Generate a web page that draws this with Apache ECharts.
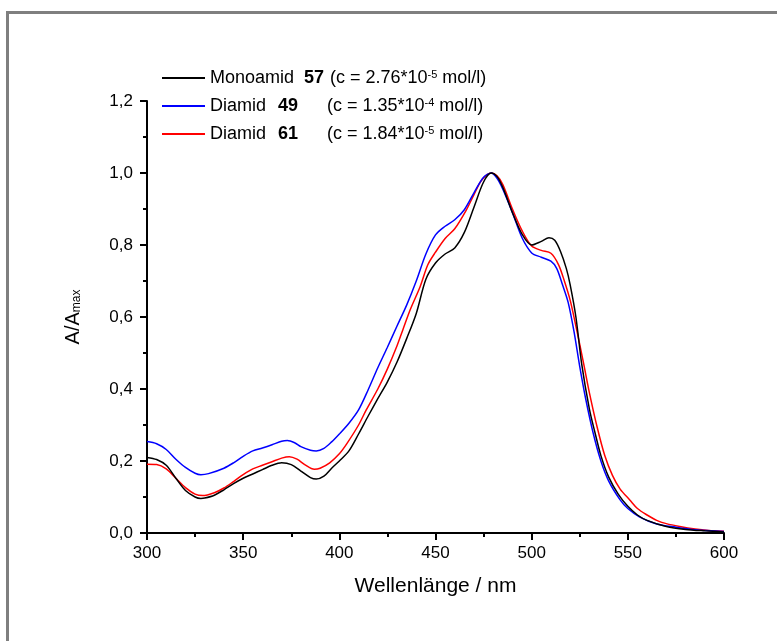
<!DOCTYPE html>
<html>
<head>
<meta charset="utf-8">
<script src="https://cdn.jsdelivr.net/npm/echarts@6/dist/echarts.min.js"></script>
<style>
html,body{margin:0;padding:0;background:#fff;}
#c{width:777px;height:641px;}
</style>
</head>
<body>
<div id="c"></div>
<script>
// ---- Data ----
var xTicks = [300, 350, 400, 450, 500, 550, 600];
var yTicks = [0, 0.2, 0.4, 0.6, 0.8, 1.0, 1.2];

var monoamid57_x = [300,305,310,315,320,325,328,330,335,340,345,350,355,360,365,370,375,380,385,388,392,396,400,405,410,415,420,425,430,435,440,445,450,455,460,465,470,475,479,482,485,490,495,500,505,509,512,515,518,520,523,526,530,533,536,540,545,550,555,560,570,580,590,600];
var monoamid57_y = [0.210,0.204,0.188,0.152,0.118,0.100,0.096,0.097,0.105,0.120,0.137,0.152,0.164,0.176,0.188,0.195,0.190,0.172,0.154,0.150,0.158,0.180,0.200,0.228,0.275,0.325,0.373,0.420,0.475,0.540,0.610,0.705,0.750,0.775,0.792,0.835,0.905,0.975,1.000,0.990,0.960,0.890,0.830,0.800,0.810,0.820,0.813,0.782,0.735,0.690,0.600,0.470,0.345,0.277,0.215,0.156,0.108,0.074,0.050,0.035,0.018,0.010,0.006,0.003];

var diamid49_x = [300,305,310,315,320,325,328,332,340,345,350,355,360,365,370,373,377,380,385,388,392,396,400,405,410,415,420,425,430,435,440,445,450,455,460,465,470,475,479,482,485,490,495,500,505,510,513,516,519,522,525,528,532,536,540,546,550,556,565,575,585,600];
var diamid49_y = [0.254,0.248,0.232,0.205,0.182,0.166,0.162,0.165,0.180,0.195,0.213,0.228,0.236,0.245,0.255,0.257,0.250,0.240,0.230,0.228,0.235,0.253,0.275,0.305,0.342,0.398,0.459,0.516,0.575,0.633,0.700,0.775,0.828,0.852,0.870,0.898,0.945,0.988,1.000,0.985,0.955,0.890,0.820,0.778,0.766,0.755,0.735,0.690,0.640,0.560,0.462,0.375,0.277,0.200,0.145,0.092,0.068,0.045,0.025,0.016,0.009,0.004];

var diamid61_x = [300,305,310,315,320,325,329,335,340,345,350,355,360,365,370,374,378,382,387,390,395,400,404,410,414,420,425,430,433,437,442,446,450,455,460,466,470,474,479,482,485,490,495,500,505,510,514,517,520,523,527,530,534,538,542,546,551,555,560,565,570,577,585,592,600];
var diamid61_y = [0.191,0.190,0.178,0.152,0.126,0.108,0.104,0.112,0.125,0.143,0.162,0.178,0.188,0.198,0.208,0.212,0.205,0.190,0.177,0.180,0.195,0.220,0.249,0.300,0.342,0.400,0.456,0.520,0.564,0.622,0.684,0.745,0.780,0.818,0.845,0.897,0.940,0.980,1.000,0.992,0.968,0.900,0.840,0.797,0.785,0.777,0.745,0.700,0.647,0.575,0.471,0.390,0.295,0.215,0.160,0.122,0.092,0.068,0.050,0.035,0.026,0.018,0.011,0.007,0.005];

var seriesNames = ['Monoamid 57', 'Diamid 49', 'Diamid 61'];
var seriesColors = ['#000000', '#0000ff', '#ff0000'];
var legendParts = {
  'Monoamid 57': {n: 'Monoamid', b: '57', c: '(c = 2.76*10', e: '-5', u: ' mol/l)'},
  'Diamid 49':   {n: 'Diamid', b: '49', c: '(c = 1.35*10', e: '-4', u: ' mol/l)'},
  'Diamid 61':   {n: 'Diamid', b: '61', c: '(c = 1.84*10', e: '-5', u: ' mol/l)'}
};

function zip(xs, ys){ var o=[]; for(var i=0;i<xs.length;i++){o.push([xs[i], ys[i]]);} return o; }
var seriesData = [zip(monoamid57_x, monoamid57_y), zip(diamid49_x, diamid49_y), zip(diamid61_x, diamid61_y)];

var FONT = '"Liberation Sans", Arial, sans-serif';
var chart = echarts.init(document.getElementById('c'), null, {renderer: 'canvas'});

var series = seriesNames.map(function(nm, i){
  return {
    name: nm, type: 'line', data: seriesData[i], smooth: 0.3,
    showSymbol: false, symbol: 'none',
    lineStyle: {color: seriesColors[i], width: 1.5},
    itemStyle: {color: seriesColors[i]},
    z: 3 - i
  };
});

chart.setOption({
  animation: false,
  backgroundColor: '#ffffff',
  graphic: [{
    type: 'polyline',
    shape: {points: [[7.5, 641], [7.5, 12.5], [777, 12.5]]},
    style: {stroke: '#7f7f7f', lineWidth: 3, fill: null},
    silent: true
  }],
  grid: {left: 147, right: 53, top: 101, bottom: 108, containLabel: false},
  legend: {
    orient: 'vertical', left: 157, top: 64,
    itemWidth: 43, itemHeight: 2, itemGap: 4,
    icon: 'rect',
    data: seriesNames,
    formatter: function(name){
      var k = (name === 'Monoamid 57' ? '1' : '2');
      var p = legendParts[name];
      return '{n' + k + '|' + p.n + '}{b' + k + '|' + p.b + '}{c|' + p.c + '}{e|' + p.e + '}{c|' + p.u + '}';
    },
    textStyle: {
      fontFamily: FONT, fontSize: 18, color: '#000', padding: [0,0,0,0],
      rich: {
        n1: {fontFamily: FONT, fontSize: 18, width: 94, color: '#000', lineHeight: 18},
        b1: {fontFamily: FONT, fontSize: 18, fontWeight: 'bold', width: 26, color: '#000', lineHeight: 18},
        n2: {fontFamily: FONT, fontSize: 18, width: 68, color: '#000', lineHeight: 18},
        b2: {fontFamily: FONT, fontSize: 18, fontWeight: 'bold', width: 49, color: '#000', lineHeight: 18},
        c: {fontFamily: FONT, fontSize: 18, color: '#000', lineHeight: 18},
        e: {fontFamily: FONT, fontSize: 11, color: '#000', verticalAlign: 'top', lineHeight: 11, padding: [0,0,13,0]}
      }
    },
    itemStyle: {borderWidth: 0}
  },
  xAxis: {
    type: 'value', min: 300, max: 600, interval: 50,
    name: 'Wellenlänge / nm', nameLocation: 'middle', nameGap: 43,
    nameTextStyle: {fontFamily: FONT, fontSize: 21, color: '#000'},
    axisLine: {show: true, onZero: false, lineStyle: {color: '#000', width: 2}},
    axisTick: {show: true, inside: false, length: 7, lineStyle: {color: '#000', width: 2}},
    minorTick: {show: true, splitNumber: 2, length: 4, lineStyle: {color: '#000', width: 2}},
    splitLine: {show: false},
    axisLabel: {fontFamily: FONT, fontSize: 17, color: '#000', margin: 12,
      formatter: function(v){ return xTicks.indexOf(v) >= 0 ? String(v) : ''; }}
  },
  yAxis: {
    type: 'value', min: 0, max: 1.2, interval: 0.2,
    name: '{a|A/A}{s|max}', nameLocation: 'middle', nameGap: 64, nameRotate: 90,
    nameTextStyle: {fontFamily: FONT, fontSize: 20, color: '#000',
      rich: {
        a: {fontFamily: FONT, fontSize: 20, color: '#000', lineHeight: 20},
        s: {fontFamily: FONT, fontSize: 12, color: '#000', verticalAlign: 'bottom', lineHeight: 12, padding: [26,0,0,0]}
      }},
    axisLine: {show: true, onZero: false, lineStyle: {color: '#000', width: 2}},
    axisTick: {show: true, inside: false, length: 7, lineStyle: {color: '#000', width: 2}},
    minorTick: {show: true, splitNumber: 2, length: 4, lineStyle: {color: '#000', width: 2}},
    splitLine: {show: false},
    axisLabel: {fontFamily: FONT, fontSize: 17, color: '#000', margin: 14,
      formatter: function(v){ return v.toFixed(1).replace('.', ','); }}
  },
  series: series
});
</script>
</body>
</html>
